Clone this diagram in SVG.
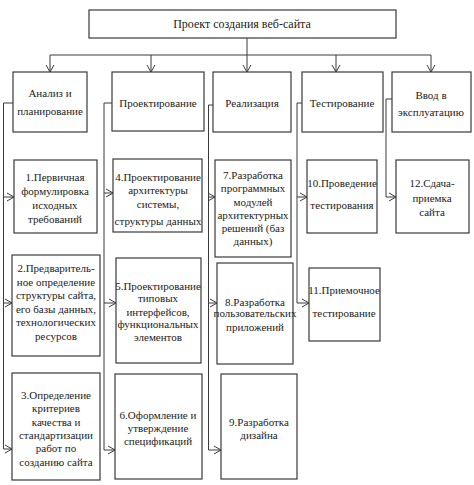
<svg xmlns="http://www.w3.org/2000/svg" width="474" height="485" viewBox="0 0 474 485">
<style>
.box{fill:#fff;stroke:#3a3a3a;stroke-width:1.2}
.t{font-family:"Liberation Serif","Times New Roman",serif;font-size:11px;fill:#222;text-anchor:middle}
.tt{font-family:"Liberation Serif","Times New Roman",serif;font-size:12px;fill:#222;text-anchor:middle}
.c{fill:none;stroke:#3a3a3a;stroke-width:1}
</style>
<defs>
<marker id="a" markerWidth="8" markerHeight="10" refX="7" refY="5" orient="auto" markerUnits="userSpaceOnUse">
<path d="M0,1 L7,5 L0,9" fill="none" stroke="#3a3a3a" stroke-width="1"/>
</marker>
</defs>
<rect width="474" height="485" fill="#fff"/>
<g id="connectors">
<path class="c" d="M247,38 V55"/>
<path class="c" d="M50,55 H431"/>
<path class="c" d="M50,55 V72" marker-end="url(#a)"/>
<path class="c" d="M151,55 V72" marker-end="url(#a)"/>
<path class="c" d="M247,55 V72" marker-end="url(#a)"/>
<path class="c" d="M336,55 V72" marker-end="url(#a)"/>
<path class="c" d="M431,55 V72" marker-end="url(#a)"/>
<path class="c" d="M13,103 H3.5 V449 H12" marker-end="url(#a)"/>
<path class="c" d="M3.5,197 H14" marker-end="url(#a)"/>
<path class="c" d="M3.5,303 H12" marker-end="url(#a)"/>
<path class="c" d="M112,103 H104 V450 H115" marker-end="url(#a)"/>
<path class="c" d="M104,193 H113" marker-end="url(#a)"/>
<path class="c" d="M104,303 H116" marker-end="url(#a)"/>
<path class="c" d="M213,105 H208.5 V450 H221" marker-end="url(#a)"/>
<path class="c" d="M208.5,197 H215" marker-end="url(#a)"/>
<path class="c" d="M208.5,303 H217" marker-end="url(#a)"/>
<path class="c" d="M302,103 H297 V303 H309" marker-end="url(#a)"/>
<path class="c" d="M297,197 H307" marker-end="url(#a)"/>
<path class="c" d="M392,99 H386 V197 H396" marker-end="url(#a)"/>
</g>
<g id="title"><rect class="box" x="89" y="10" width="307" height="28"/><text class="tt" x="242" y="28">Проект создания веб-сайта</text></g>
<g id="h1"><rect class="box" x="13" y="72" width="74" height="60"/><text class="t" x="50" y="97">Анализ и</text><text class="t" x="50" y="115">планирование</text></g>
<g id="h2"><rect class="box" x="112" y="72" width="92" height="59"/><text class="t" x="158" y="107">Проектирование</text></g>
<g id="h3"><rect class="box" x="213" y="72" width="78" height="60"/><text class="t" x="252" y="107">Реализация</text></g>
<g id="h4"><rect class="box" x="302" y="72" width="81" height="60"/><text class="t" x="342" y="107">Тестирование</text></g>
<g id="h5"><rect class="box" x="392" y="72" width="79" height="60"/><text class="t" x="431" y="99">Ввод в</text><text class="t" x="431" y="116">эксплуатацию</text></g>
<g id="n1"><rect class="box" x="14" y="160" width="83" height="73"/><text class="t" x="55" y="181">1.Первичная</text><text class="t" x="55" y="195">формулировка</text><text class="t" x="55" y="209">исходных</text><text class="t" x="55" y="223">требований</text></g>
<g id="n2"><rect class="box" x="12" y="255" width="88" height="101"/><text class="t" x="56" y="272">2.Предваритель-</text><text class="t" x="56" y="286">ное определение</text><text class="t" x="56" y="299">структуры сайта,</text><text class="t" x="56" y="313">его базы данных,</text><text class="t" x="56" y="326">технологических</text><text class="t" x="56" y="340">ресурсов</text></g>
<g id="n3"><rect class="box" x="12" y="373" width="88" height="107"/><text class="t" x="56" y="399">3.Определение</text><text class="t" x="56" y="412">критериев</text><text class="t" x="56" y="426">качества и</text><text class="t" x="56" y="439">стандартизации</text><text class="t" x="56" y="452">работ по</text><text class="t" x="56" y="466">созданию сайта</text></g>
<g id="n4"><rect class="box" x="113" y="159" width="89" height="73"/><text class="t" x="158" y="181">4.Проектирование</text><text class="t" x="158" y="194">архитектуры</text><text class="t" x="158" y="208">системы,</text><text class="t" x="158" y="225">структуры данных</text></g>
<g id="n5"><rect class="box" x="116" y="258" width="85" height="105"/><text class="t" x="158" y="290">5.Проектирование</text><text class="t" x="158" y="302">типовых</text><text class="t" x="158" y="316">интерфейсов,</text><text class="t" x="158" y="328">функциональных</text><text class="t" x="158" y="341">элементов</text></g>
<g id="n6"><rect class="box" x="115" y="374" width="87" height="105"/><text class="t" x="158" y="419">6.Оформление и</text><text class="t" x="158" y="432">утверждение</text><text class="t" x="158" y="445">спецификаций</text></g>
<g id="n7"><rect class="box" x="215" y="160" width="76" height="97"/><text class="t" x="253" y="179">7.Разработка</text><text class="t" x="253" y="192">программных</text><text class="t" x="253" y="206">модулей</text><text class="t" x="253" y="219">архитектурных</text><text class="t" x="253" y="232">решений (баз</text><text class="t" x="253" y="245">данных)</text></g>
<g id="n8"><rect class="box" x="217" y="263" width="76" height="101"/><text class="t" x="255" y="306">8.Разработка</text><text class="t" x="255" y="317">пользовательских</text><text class="t" x="255" y="331">приложений</text></g>
<g id="n9"><rect class="box" x="221" y="374" width="76" height="105"/><text class="t" x="259" y="426">9.Разработка</text><text class="t" x="259" y="439">дизайна</text></g>
<g id="n10"><rect class="box" x="307" y="160" width="70" height="73"/><text class="t" x="342" y="187">10.Проведение</text><text class="t" x="342" y="209">тестирования</text></g>
<g id="n11"><rect class="box" x="309" y="268" width="71" height="73"/><text class="t" x="344" y="294">11.Приемочное</text><text class="t" x="344" y="317">тестирование</text></g>
<g id="n12"><rect class="box" x="396" y="160" width="73" height="73"/><text class="t" x="432" y="187">12.Сдача-</text><text class="t" x="432" y="202">приемка</text><text class="t" x="432" y="216">сайта</text></g>
</svg>
